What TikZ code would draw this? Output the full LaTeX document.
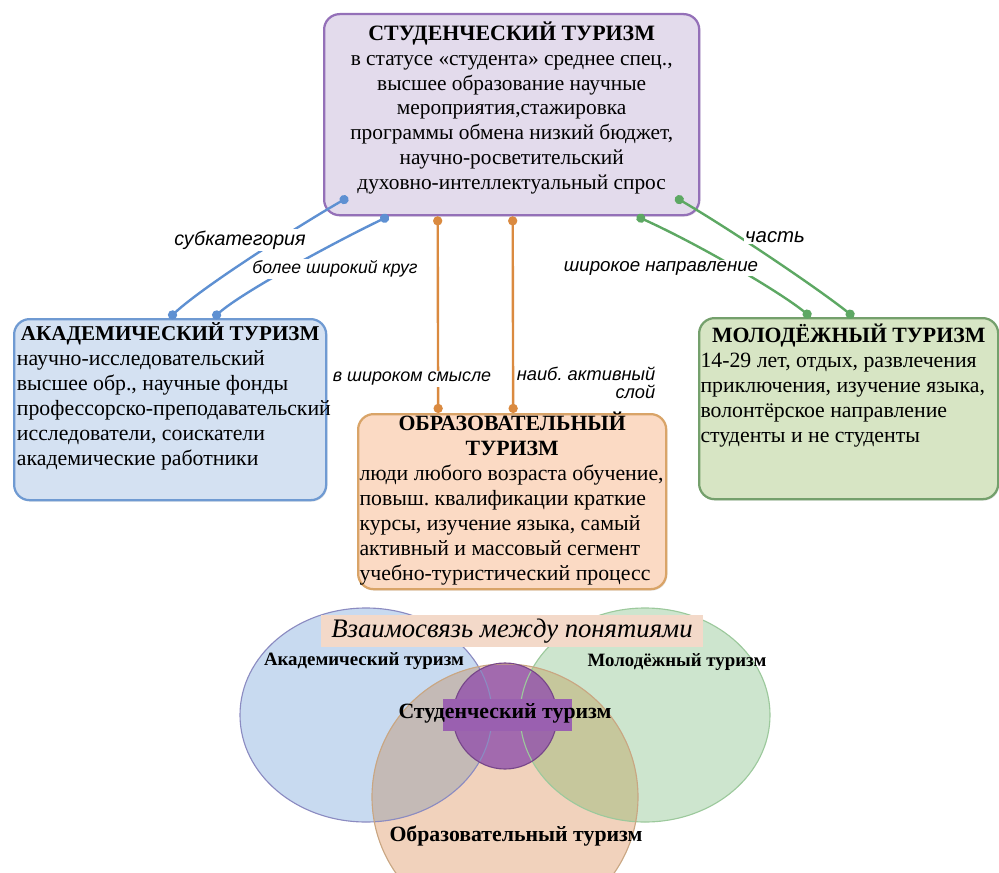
\documentclass[tikz,border=0pt]{standalone}
\usepackage{fontspec}
\setmainfont{Liberation Serif}
\newfontfamily\labelfont{Liberation Sans}
\usetikzlibrary{arrows.meta,shadows}
\frenchspacing

% box colours
\definecolor{studfill}{HTML}{E3DBEC}
\definecolor{studline}{HTML}{9470B8}
\definecolor{acadfill}{HTML}{D4E1F2}
\definecolor{acadline}{HTML}{6F9AD2}
\definecolor{edufill}{HTML}{FBDAC4}
\definecolor{eduline}{HTML}{D9A468}
\definecolor{youthfill}{HTML}{D7E5C4}
\definecolor{youthline}{HTML}{74A06C}
% link colours
\definecolor{blueline}{HTML}{5E90D2}
\definecolor{orangeline}{HTML}{DA8A40}
\definecolor{greenline}{HTML}{5DA863}
% venn colours
\definecolor{vblue}{HTML}{C8DAF0}
\definecolor{vgreen}{HTML}{CDE5CE}
\definecolor{vorange}{HTML}{F1D2BC}
\definecolor{vblueor}{HTML}{C4BAB6}
\definecolor{vgreenor}{HTML}{C6C79C}
\definecolor{vpurple}{HTML}{9558AC}
\definecolor{titlefill}{HTML}{F3D9C9}

\newcommand{\boxtext}[4]{\parbox[t][#2][t]{#1}{\parskip=0pt\vspace{#3}#4}}

\begin{document}
\begin{tikzpicture}[x=0.025cm, y=-0.025cm,
    box/.style={draw, line width=1.6pt, rounded corners=11pt, anchor=north west, inner sep=0pt,
      drop shadow={shadow xshift=0.8pt, shadow yshift=-1pt, opacity=0.2}},
    link/.style={line width=1.7pt, {Circle[length=6.5pt]}-{Circle[length=6.5pt]}},
    tag/.style={font=\labelfont\itshape\fontsize{#1}{#1}\selectfont, fill=white, inner sep=1pt},
    venn/.style={font=\bfseries\fontsize{#1}{#1}\selectfont, inner sep=1pt}]
    \useasboundingbox (0,0) rectangle (999,873);

    % Draw the boxes
    \node[box, fill=studfill, draw=studline] (stud) at (323,13) {\boxtext{9.375cm}{5.025cm}{5.5pt}{%
        \centering\fontsize{15.2}{17.6}\selectfont
        {\fontsize{15.6}{17.6}\selectfont\textbf{СТУДЕНЧЕСКИЙ ТУРИЗМ}}\\
        в статусе «студента» среднее спец.,\\
        высшее образование научные\\
        мероприятия,стажировка\\
        программы обмена низкий бюджет,\\
        научно-росветительский\\
        духовно-интеллектуальный спрос}};
    \node[box, fill=acadfill, draw=acadline] (acad) at (13,318) {\boxtext{7.8cm}{4.525cm}{2.5pt}{%
        \fontsize{15.5}{17.8}\selectfont
        {\centering\fontsize{15}{17.8}\selectfont\textbf{АКАДЕМИЧЕСКИЙ ТУРИЗМ}\par}
        \raggedright\leftskip=2pt
        научно-исследовательский\\
        высшее обр., научные фонды\\
        \mbox{профессорско-преподавательский}\\
        исследователи, соискатели\\
        академические работники}};
    \node[box, fill=edufill, draw=eduline] (edu) at (357,413) {\boxtext{7.7cm}{4.375cm}{-1.5pt}{%
        \fontsize{15.5}{17.8}\selectfont
        {\centering\textbf{ОБРАЗОВАТЕЛЬНЫЙ\\ ТУРИЗМ}\par}
        \raggedright\leftskip=1pt
        люди любого возраста обучение,\\
        повыш. квалификации краткие\\
        курсы, изучение языка, самый\\
        активный и массовый сегмент\\
        учебно-туристический процесс}};
    \node[box, fill=youthfill, draw=youthline] (youth) at (698,317) {\boxtext{7.475cm}{4.525cm}{4pt}{%
        \fontsize{15.5}{17.8}\selectfont
        {\centering\textbf{МОЛОДЁЖНЫЙ ТУРИЗМ}\par}
        \raggedright\leftskip=1pt
        14-29 лет, отдых, развлечения\\
        приключения, изучение языка,\\
        волонтёрское направление\\
        студенты и не студенты}};

    % Link ends on the boxes
    \path (stud.south west) ++(25,-19) coordinate (sa1);
    \path (stud.south) ++(-123,0) coordinate (sa2);
    \path (stud.south) ++(-74,0) coordinate (se1);
    \path (stud.south) ++(1,0) coordinate (se2);
    \path (stud.south) ++(125,0) coordinate (sy2);
    \path (stud.south east) ++(-25,-19) coordinate (sy1);
    \path (acad.north) ++(-1,0) coordinate (a1);
    \path (acad.north) ++(43,0) coordinate (a2);
    \path (edu.north) ++(-74,0) coordinate (e1);
    \path (edu.north) ++(1,0) coordinate (e2);
    \path (youth.north) ++(-38,0) coordinate (y2);
    \path (youth.north) ++(5,0) coordinate (y1);

    % Draw the links
    \draw[link, blueline] (sa1) .. controls (300,225) and (205,285) .. (a1);
    \draw[link, blueline] (sa2) .. controls (345,237) and (245,290) .. (a2);
    \draw[link, orangeline] (se1) -- (e1);
    \draw[link, orangeline] (se2) -- (e2);
    \draw[link, greenline] (sy2) .. controls (700,245) and (780,292) .. (y2);
    \draw[link, greenline] (sy1) .. controls (733,231) and (820,290) .. (y1);

    % Link labels
    \node[tag=14] (lsub) at (240,240) {субкатегория};
    \node[tag=12.5] (lwide) at (335,269) {более широкий круг};
    \node[tag=12.75] (lsense) at (412,379) {в широком смысле};
    \node[tag=13, align=right, anchor=east] (lactive) at (657,383) {наиб. активный\\ слой};
    \node[tag=14.5] (lpart) at (775,237) {часть};
    \node[tag=13.3] (ldir) at (661,268) {широкое направление};

    % Venn diagram
    \fill[vblue] (366,715) ellipse [x radius=126, y radius=107];
    \fill[vgreen] (645,715) ellipse [x radius=125, y radius=107];
    \fill[vorange] (505,797) circle [radius=133];
    \begin{scope}
        \clip (505,797) circle [radius=133];
        \fill[vblueor] (366,715) ellipse [x radius=126, y radius=107];
        \fill[vgreenor] (645,715) ellipse [x radius=125, y radius=107];
    \end{scope}
    \fill[vpurple, fill opacity=0.85] (505,716) ellipse [x radius=52, y radius=53];
    \draw[line width=0.8pt, blue!30!gray!70] (366,715) ellipse [x radius=126, y radius=107];
    \draw[line width=0.8pt, green!30!gray!60] (645,715) ellipse [x radius=125, y radius=107];
    \draw[line width=0.8pt, orange!40!gray!70] (505,797) circle [radius=133];
    \draw[line width=0.8pt, vpurple!80!black] (505,716) ellipse [x radius=52, y radius=53];
    \fill[vpurple!95!white] (443,699) rectangle (572,731);

    % Venn labels
    \node[fill=titlefill, minimum width=9.55cm, minimum height=0.8cm, inner sep=0pt,
        font=\itshape\fontsize{19}{20}\selectfont] (vtitle) at (512,631) {Взаимосвязь между понятиями};
    \node[venn=13.4] (vacad) at (364,661) {Академический туризм};
    \node[venn=13.4] (vyouth) at (677,662) {Молодёжный туризм};
    \node[venn=15.5] (vstud) at (505,713) {Студенческий туризм};
    \node[venn=15.5] (vedu) at (516,836) {Образовательный туризм};
\end{tikzpicture}
\end{document}
